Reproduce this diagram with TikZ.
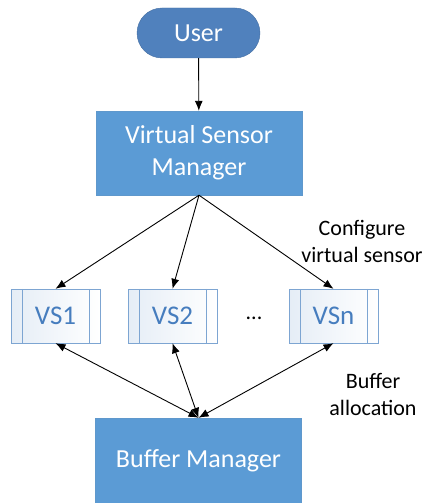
\documentclass[tikz,border=0pt]{standalone}
\usepackage{fontspec}
\setmainfont{Carlito}
\usepackage{tikz}
\usetikzlibrary{arrows.meta}

\definecolor{userblue}{RGB}{80,129,189}
\definecolor{boxblue}{RGB}{91,155,213}
\definecolor{vsedge}{RGB}{125,165,210}
\definecolor{vstext}{RGB}{70,125,190}

\tikzset{
  userbox/.style={draw=userblue!85!black, fill=userblue, rounded corners=25pt,
    minimum width=123pt, minimum height=50pt, inner sep=0pt, text=white,
    font=\fontsize{26}{30}\selectfont},
  mainbox/.style={fill=boxblue, draw=boxblue!90!gray, minimum width=206pt,
    minimum height=84pt, inner sep=0pt, text=white, align=center,
    font=\fontsize{26}{32}\selectfont},
  vsbox/.style={draw=vsedge, left color=vsedge!20, right color=white,
    minimum width=89pt, minimum height=54pt, inner sep=0pt, text=vstext,
    font=\fontsize{27}{30}\selectfont},
  vsline/.style={draw=vsedge},
  note/.style={align=center, font=\fontsize{22}{27}\selectfont},
  link/.style={-{Latex[length=10pt,width=8pt]}, line width=0.9pt},
  twoway/.style={{Latex[length=10pt,width=8pt]}-{Latex[length=10pt,width=8pt]}, line width=0.9pt}
}

\begin{document}
\begin{tikzpicture}[x=1pt,y=-1pt]
    \useasboundingbox (0,0) rectangle (426,503);
    \node[userbox] (user) at (198.5,33) {User};
    \node[mainbox] (vsm) at (199,153) {Virtual Sensor\\Manager};
    \node[vsbox] (vs1) at (55.5,316) {VS1};
    \node[vsbox] (vs2) at (172.5,316) {VS2};
    \node[vsbox] (vsn) at (333.5,316) {VSn};
    \node[font=\fontsize{22}{26}\selectfont] (dots) at (254,318) {...};
    \node[mainbox, minimum height=86pt] (buf) at (198.5,461) {Buffer Manager};
    \foreach \n in {vs1,vs2,vsn} {
        \draw[vsline] ([xshift=11pt]\n.north west) -- ([xshift=11pt]\n.south west);
        \draw[vsline] ([xshift=-11pt]\n.north east) -- ([xshift=-11pt]\n.south east);
        \draw[link] (vsm.south) -- (\n.north);
        \draw[twoway] (\n.south) -- (buf.north);
    }
    \draw[link] (user) -- (vsm);
    \node[note] (cfg) at (362,241) {Configure\\virtual sensor};
    \node[note] (alloc) at (373,394) {Buffer\\allocation};
\end{tikzpicture}
\end{document}
